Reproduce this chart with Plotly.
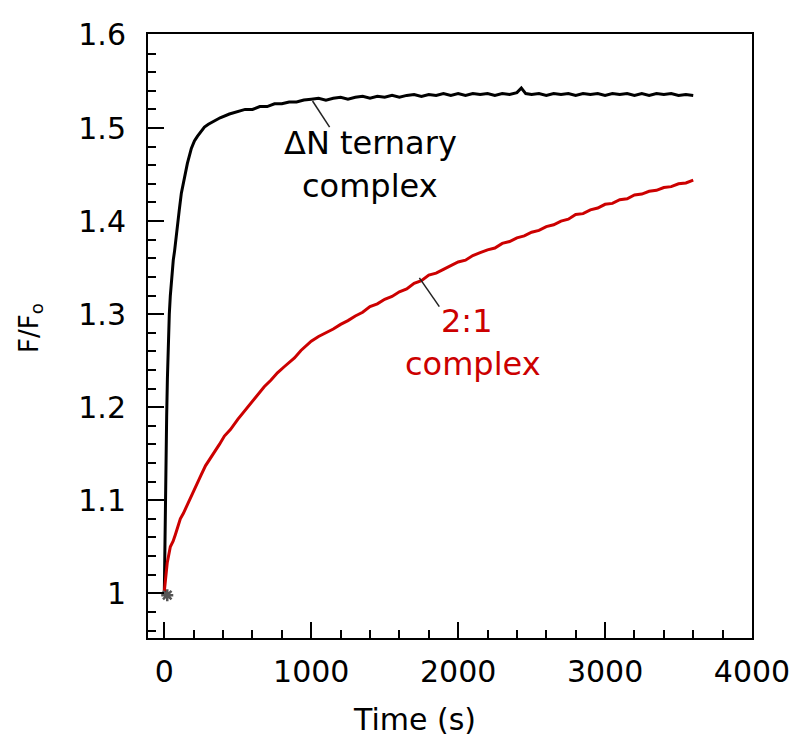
import plotly.graph_objects as go

# ---------------- data ----------------
black_t = [0, 4, 8, 12, 16, 21, 27, 34, 41, 50, 61, 70, 82, 92, 102, 116, 136, 157, 184, 205,
           225, 250, 273, 300, 341, 380, 443, 500, 550, 600, 650, 700, 750, 800, 850, 900, 950,
           1000, 1050, 1100, 1150, 1200, 1250, 1300, 1350, 1400, 1450, 1500, 1550, 1600, 1650,
           1700, 1750, 1800, 1850, 1900, 1950, 2000, 2050, 2100, 2150, 2200, 2250, 2300, 2350,
           2400, 2430, 2460, 2500, 2550, 2600, 2650, 2700, 2750, 2800, 2850, 2900, 2950, 3000,
           3050, 3100, 3150, 3200, 3250, 3300, 3350, 3400, 3450, 3500, 3550, 3600]
black_y = [1.000, 1.060, 1.110, 1.150, 1.190, 1.230, 1.270, 1.300, 1.320, 1.340, 1.358, 1.368,
           1.387, 1.400, 1.412, 1.430, 1.447, 1.462, 1.478, 1.486, 1.491, 1.496, 1.501, 1.504,
           1.508, 1.511, 1.515, 1.518, 1.520, 1.520, 1.523, 1.523, 1.526, 1.526, 1.528, 1.528,
           1.530, 1.531, 1.532, 1.530, 1.532, 1.533, 1.531, 1.533, 1.534, 1.532, 1.534, 1.533,
           1.535, 1.533, 1.535, 1.536, 1.534, 1.536, 1.535, 1.537, 1.535, 1.537, 1.535, 1.537,
           1.536, 1.537, 1.535, 1.537, 1.536, 1.538, 1.543, 1.537, 1.536, 1.537, 1.535, 1.537,
           1.536, 1.537, 1.535, 1.537, 1.536, 1.537, 1.535, 1.537, 1.536, 1.537, 1.535, 1.537,
           1.535, 1.537, 1.536, 1.537, 1.535, 1.536, 1.535]

red_t = [0, 10, 20, 41, 60, 75, 90, 109, 130, 150, 170, 200, 225, 250, 280, 310, 341, 375, 409,
         450, 500, 545, 590, 634, 680, 725, 770, 820, 886, 930, 975, 1000, 1050, 1100, 1150,
         1200, 1250, 1300, 1350, 1400, 1450, 1500, 1550, 1600, 1650, 1700, 1750, 1800, 1850,
         1900, 1950, 2000, 2050, 2100, 2150, 2200, 2250, 2300, 2350, 2400, 2450, 2500, 2550,
         2600, 2650, 2700, 2750, 2800, 2850, 2900, 2950, 3000, 3050, 3100, 3150, 3200, 3250,
         3300, 3350, 3400, 3450, 3500, 3550, 3600]
red_y = [1.002, 1.020, 1.033, 1.050, 1.056, 1.063, 1.070, 1.080, 1.086, 1.093, 1.099, 1.110,
         1.120, 1.127, 1.137, 1.144, 1.152, 1.160, 1.169, 1.176, 1.187, 1.196, 1.205, 1.214,
         1.222, 1.229, 1.237, 1.244, 1.253, 1.261, 1.267, 1.271, 1.276, 1.280, 1.284, 1.289,
         1.293, 1.298, 1.302, 1.308, 1.311, 1.316, 1.319, 1.324, 1.327, 1.333, 1.336, 1.342,
         1.344, 1.348, 1.352, 1.356, 1.358, 1.363, 1.366, 1.369, 1.371, 1.376, 1.378, 1.382,
         1.384, 1.388, 1.390, 1.394, 1.396, 1.400, 1.402, 1.407, 1.408, 1.412, 1.414, 1.418,
         1.419, 1.423, 1.424, 1.428, 1.429, 1.432, 1.433, 1.436, 1.437, 1.440, 1.441, 1.444]

start_t = [20]
start_y = [0.998]

x_ticks = [0, 1000, 2000, 3000, 4000]
x_tick_text = ["0", "1000", "2000", "3000", "4000"]
y_ticks = [1.0, 1.1, 1.2, 1.3, 1.4, 1.5, 1.6]
y_tick_text = ["1", "1.1", "1.2", "1.3", "1.4", "1.5", "1.6"]

FONT = "DejaVu Sans"
RED = "#cc0000"

# plot area in pixels
L, R, T, B = 148, 43, 34, 100
W, H = 795, 738
PW, PH = W - L - R, H - T - B


def px(xp):
    return (xp - L) / PW


def py(yp):
    return (H - B - yp) / PH


fig = go.Figure()
fig.add_trace(go.Scatter(x=black_t, y=black_y, mode="lines",
                         line=dict(color="black", width=3), showlegend=False))
fig.add_trace(go.Scatter(x=red_t, y=red_y, mode="lines",
                         line=dict(color=RED, width=3), showlegend=False))
fig.add_trace(go.Scatter(x=start_t, y=start_y, mode="markers",
                         marker=dict(symbol="asterisk-open", size=10, color="#555555",
                                     line=dict(color="#555555", width=2.5)),
                         showlegend=False))

# leader lines
fig.add_shape(type="line", xref="x", yref="y", x0=1009, y0=1.529, x1=1125, y1=1.501,
              line=dict(color="#222222", width=1.5))
fig.add_shape(type="line", xref="x", yref="y", x0=1736, y0=1.339, x1=1872, y1=1.308,
              line=dict(color="#222222", width=1.5))

fig.add_annotation(x=1400, y=1.484, xref="x", yref="y", text="ΔN ternary", showarrow=False,
                   font=dict(family=FONT, size=32, color="black"))
fig.add_annotation(x=1400, y=1.438, xref="x", yref="y", text="complex", showarrow=False,
                   font=dict(family=FONT, size=32, color="black"))
fig.add_annotation(x=2063, y=1.293, xref="x", yref="y", text="2:1", showarrow=False,
                   font=dict(family=FONT, size=32, color=RED))
fig.add_annotation(x=2102, y=1.246, xref="x", yref="y", text="complex", showarrow=False,
                   font=dict(family=FONT, size=32, color=RED))

# axis titles
fig.add_annotation(x=px(414), y=py(719), xref="paper", yref="paper", text="Time (s)",
                   xanchor="center", yanchor="middle",
                   showarrow=False, font=dict(family=FONT, size=30, color="black"))
fig.add_annotation(x=px(30), y=py(328), xref="paper", yref="paper", text="F/F<sub>o</sub>",
                   xanchor="center", yanchor="middle",
                   textangle=-90, showarrow=False, font=dict(family=FONT, size=26, color="black"))

fig.update_xaxes(range=[-111, 4000], showline=True, mirror=True, linecolor="black", linewidth=2,
                 ticks="inside", ticklen=16, tickwidth=2, tickcolor="black",
                 tickvals=x_ticks, ticktext=x_tick_text, showgrid=False, zeroline=False,
                 ticklabelstandoff=6, automargin=False,
                 tickfont=dict(family=FONT, size=30, color="black"),
                 minor=dict(dtick=200, ticks="inside", ticklen=8, tickwidth=2, tickcolor="black",
                            showgrid=False))
fig.update_yaxes(range=[0.952, 1.601], showline=True, mirror=True, linecolor="black", linewidth=2,
                 ticks="inside", ticklen=16, tickwidth=2, tickcolor="black",
                 tickvals=y_ticks, ticktext=y_tick_text, showgrid=False, zeroline=False,
                 ticklabelstandoff=14, automargin=False,
                 tickfont=dict(family=FONT, size=30, color="black"),
                 minor=dict(dtick=0.02, tick0=0, ticks="inside", ticklen=8, tickwidth=2,
                            tickcolor="black", showgrid=False))

fig.update_layout(width=W, height=H, margin=dict(l=L, r=R, t=T, b=B, autoexpand=False),
                  plot_bgcolor="white", paper_bgcolor="white")

fig.write_html("out.html")
